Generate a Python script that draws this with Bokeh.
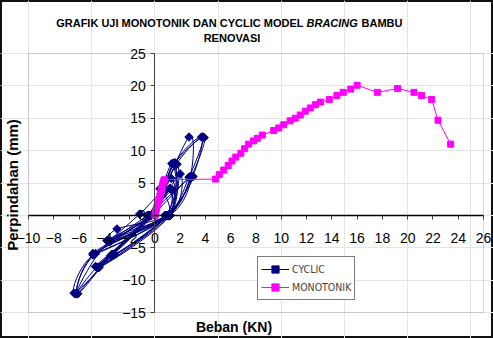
import math
from bokeh.plotting import figure
from bokeh.models import (Range1d, FixedTicker, Label, Legend, LegendItem,
                          LinearAxis, BoxAnnotation)
from bokeh.embed import file_html
from bokeh.resources import INLINE

# Cyclic test: load (KN) vs displacement (mm), cycles at 4, 6, 8 and 12 mm
cyclic_load = [
    0.0, 0.4, 1.0, -3.0, -3.7, -1.2,
    0.9, 1.1, -3.6, -0.6,
    1.4, 0.9, -3.8, -0.5,
    1.2, 0.8, -3.5, -0.4,
    1.3, 1.0, -4.8, -0.4,
    2.0, 1.2, -4.9, -0.3,
    2.8, 1.1, -3.4, -0.5,
    3.0, 1.0, -3.2, -0.4,
    1.35, 1.1, -4.6, -0.4,
    1.55, 0.9, -4.5, -0.5,
    1.75, 1.0, -4.7, -0.3,
    1.45, 1.2, -4.4, -0.4,
    2.7, 2.8, 1.1, -3.6, -6.3, -4.6, -0.4,
    1.5, 3.7, 3.0, 1.2, -4.8, -6.1, -3.4, -0.5,
    1.6, 3.9, 2.9, 1.0, -4.9, -6.4, -3.3, -0.3,
    1.7, 3.8, 2.7, 0.9, -4.7, -6.2, -3.5, 0.0,
]
cyclic_disp = [
    0.0, 4.1, 0.0, -2.1, -4.0, 0.2,
    4.0, 0.0, -4.1, 0.0,
    3.9, 0.0, -3.9, -0.2,
    4.2, 0.0, -4.0, 0.0,
    5.7, 0.0, -6.0, 0.0,
    6.4, 0.0, -5.9, 0.0,
    5.9, 0.0, -6.2, 0.0,
    6.0, 0.0, -6.0, 0.0,
    8.0, 0.0, -8.0, 0.0,
    8.1, 0.0, -8.1, 0.0,
    7.9, 0.0, -7.9, 0.0,
    8.0, 0.0, -8.0, 0.0,
    12.1, 6.0, 0.0, -4.0, -12.1, -8.0, 0.0,
    8.0, 12.1, 6.0, 0.0, -6.0, -12.1, -6.0, 0.0,
    8.1, 12.0, 6.1, 0.0, -6.1, -12.0, -6.1, 0.0,
    7.9, 12.1, 5.9, 0.0, -5.9, -12.1, -6.2, 0.0,
]

# Monotonic test: load (KN) vs displacement (mm)
mono_load = [
    0.0, 0.05, 0.1, 0.15, 0.2, 0.25, 0.35, 0.4, 0.45, 0.5, 0.55, 0.6, 0.65, 0.7, 0.75,
    4.8, 5.1, 5.45, 5.8, 6.1, 6.4, 6.8, 7.1, 7.4, 7.8, 8.1, 8.5, 9.4, 9.8, 10.2,
    10.7, 11.1, 11.5, 11.9, 12.3, 12.7, 13.1, 13.8, 14.4, 14.9, 15.5, 16.0,
    17.6, 19.2, 20.5, 21.1, 21.9, 22.4, 23.4,
]
mono_disp = [
    0.0, 0.4, 0.8, 1.2, 1.6, 2.0, 2.5, 3.0, 3.4, 3.8, 4.2, 4.6, 5.0, 5.3, 5.5,
    5.6, 6.3, 7.0, 7.7, 8.4, 9.0, 9.6, 10.3, 11.0, 11.5, 11.9, 12.4, 13.1, 13.5, 14.0,
    14.6, 15.0, 15.5, 16.1, 16.6, 17.1, 17.5, 17.9, 18.5, 19.0, 19.5, 20.1,
    19.0, 19.6, 19.0, 18.5, 17.9, 14.7, 11.0,
]

x_ticks = list(range(-10, 27, 2))
y_ticks = list(range(-15, 26, 5))
X_MIN, X_MAX = -10, 26
Y_MIN, Y_MAX = -15, 25

title_main = "GRAFIK UJI MONOTONIK DAN CYCLIC MODEL"
title_italic = "BRACING"
title_tail = "BAMBU"
title_line2 = "RENOVASI"
x_label = "Beban (KN)"
y_label = "Perpindahan (mm)"

NAVY = "#000080"
MAGENTA = "#FF00FF"
SANS = "Liberation Sans"
COND = "DejaVu Sans Condensed"

# Canvas layout: the plotting frame fills the whole canvas and the
# chart area (with its grey border) sits inside it.
W, H = 493, 338
AREA_L, AREA_R, AREA_T, AREA_B = 28, 483, 53, 312
kx = (AREA_R - AREA_L) / (X_MAX - X_MIN)
ky = (AREA_B - AREA_T) / (Y_MAX - Y_MIN)
x_range = Range1d(X_MIN - AREA_L / kx, X_MAX + (W - AREA_R) / kx)
y_range = Range1d(Y_MIN - (H - AREA_B) / ky, Y_MAX + AREA_T / ky)


def smooth_path(xs, ys, steps=10):
    """Catmull-Rom smoothing of a polyline (smoothed-line rendering)."""
    n = len(xs)
    out_x, out_y = [], []
    for i in range(n - 1):
        p0 = (xs[max(i - 1, 0)], ys[max(i - 1, 0)])
        p1 = (xs[i], ys[i])
        p2 = (xs[i + 1], ys[i + 1])
        p3 = (xs[min(i + 2, n - 1)], ys[min(i + 2, n - 1)])
        for k in range(steps):
            t = k / steps
            t2, t3 = t * t, t * t * t
            out_x.append(0.5 * (2 * p1[0] + (-p0[0] + p2[0]) * t
                                + (2 * p0[0] - 5 * p1[0] + 4 * p2[0] - p3[0]) * t2
                                + (-p0[0] + 3 * p1[0] - 3 * p2[0] + p3[0]) * t3))
            out_y.append(0.5 * (2 * p1[1] + (-p0[1] + p2[1]) * t
                                + (2 * p0[1] - 5 * p1[1] + 4 * p2[1] - p3[1]) * t2
                                + (-p0[1] + 3 * p1[1] - 3 * p2[1] + p3[1]) * t3))
    out_x.append(xs[-1])
    out_y.append(ys[-1])
    return out_x, out_y


p = figure(
    width=W, height=H,
    output_backend="svg", toolbar_location=None,
    x_range=x_range, y_range=y_range,
    x_axis_location=None, y_axis_location=None,
    min_border=0,
    background_fill_color="white", border_fill_color="white",
)
p.outline_line_color = "#111111"
p.outline_line_width = 3

p.add_layout(BoxAnnotation(left=X_MIN, right=X_MAX, bottom=Y_MIN, top=Y_MAX,
                           fill_color=None, fill_alpha=0,
                           line_color="#808080", line_width=1, level="underlay"))

# Axes crossing at the origin
xaxis = LinearAxis(fixed_location=0, bounds=(X_MIN, X_MAX),
                   ticker=FixedTicker(ticks=x_ticks))
yaxis = LinearAxis(fixed_location=0, bounds=(Y_MIN, Y_MAX),
                   ticker=FixedTicker(ticks=y_ticks))
for ax in (xaxis, yaxis):
    ax.minor_tick_line_color = None
    ax.major_tick_in = 0
    ax.major_tick_out = 4
    ax.major_tick_line_color = "#404040"
    ax.major_label_text_font = SANS
    ax.major_label_text_font_size = "14px"
    ax.major_label_text_color = "black"
xaxis.axis_line_color = "black"
xaxis.axis_line_width = 1.5
xaxis.major_label_standoff = 14
yaxis.axis_line_color = "#404040"
yaxis.axis_line_width = 1
yaxis.major_label_standoff = 5
p.add_layout(xaxis, "below")
p.add_layout(yaxis, "left")

# Series
cx, cy = smooth_path(cyclic_load, cyclic_disp)
cyc_line = p.line(cx, cy, line_color=NAVY, line_width=1)
cyc_pts = p.scatter(cyclic_load, cyclic_disp, marker="square", angle=math.pi / 4,
                    size=6, fill_color=NAVY, line_color=NAVY)
mono_line = p.line(mono_load, mono_disp, line_color=MAGENTA, line_width=1)
mono_pts = p.scatter(mono_load, mono_disp, marker="square", size=6,
                     fill_color=MAGENTA, line_color=MAGENTA)

legend = Legend(
    items=[LegendItem(label="CYCLIC", renderers=[cyc_line, cyc_pts]),
           LegendItem(label="MONOTONIK", renderers=[mono_line, mono_pts])],
    location=(257, 38), orientation="vertical",
    padding=3, spacing=0, margin=0,
    glyph_width=28, glyph_height=18, label_height=18, label_standoff=3,
    label_text_font=COND, label_text_font_size="10.5px",
    border_line_color="black", border_line_width=1,
    background_fill_color="white", background_fill_alpha=1,
)
p.add_layout(legend, "center")


def add_text(text, x, y, size, align="left", style="bold", font=SANS,
             angle=0, baseline="alphabetic"):
    p.add_layout(Label(
        x=x, y=y, x_units="screen", y_units="screen", text=text,
        text_font=font, text_font_size=size, text_font_style=style,
        text_align=align, text_baseline=baseline, angle=angle,
        text_color="black",
    ))


# Two-line title with an italic word, then the axis titles
add_text(title_main, 303, H - 22, "11px", align="right")
add_text(title_italic, 306, H - 22, "11px", style="bold italic")
add_text(title_tail, 361, H - 22, "11px")
add_text(title_line2, 231.5, H - 37, "11px", align="center")
add_text(x_label, 233.5, H - 326, "14px", align="center")
add_text(y_label, 12, H - 184.5, "15px", align="center",
         angle=math.pi / 2, baseline="middle")

open("out.html", "w").write(file_html(p, INLINE))
